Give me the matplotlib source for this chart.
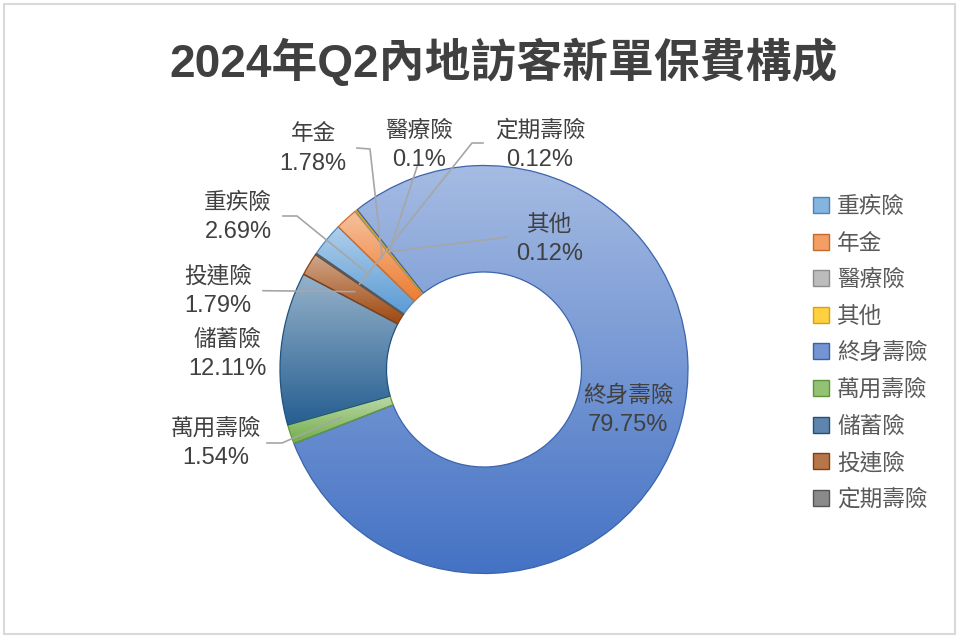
import numpy as np
import matplotlib
matplotlib.use("Agg")
import matplotlib.pyplot as plt
from matplotlib.colors import LinearSegmentedColormap, to_rgb
from matplotlib.patches import Patch, Rectangle

# ---------------- data ----------------
categories = ['重疾險', '年金', '醫療險', '其他', '終身壽險', '萬用壽險', '儲蓄險', '投連險', '定期壽險']
shares = [2.69, 1.78, 0.1, 0.12, 79.75, 1.54, 12.11, 1.79, 0.12]
pct_labels = ['2.69%', '1.78%', '0.1%', '0.12%', '79.75%', '1.54%', '12.11%', '1.79%', '0.12%']
title = '2024年Q2內地訪客新單保費構成'

# ---------------- style ----------------
base_colors = ['#5B9BD5', '#ED7D31', '#A5A5A5', '#FFC000', '#4472C4',
               '#70AD47', '#255E91', '#9E480E', '#636363']
plt.rcParams['font.family'] = ['Liberation Sans', 'Noto Sans CJK TC']

W, H = 959, 637
CX, CY, R = 484, 369.5, 204.0

def mix(c, t):
    r = np.array(to_rgb(c))
    return tuple(r + (1 - r) * t)

def dark(c, f=0.85):
    return tuple(np.array(to_rgb(c)) * f)

def px(x, y):
    return ((x - CX) / R, (CY - y) / R)

fig = plt.figure(figsize=(W / 100, H / 100), dpi=100)
fig.patch.set_facecolor('white')
ax = fig.add_axes([(CX - R) / W, (H - CY - R) / H, 2 * R / W, 2 * R / H])
ax.set_xlim(-1, 1)
ax.set_ylim(-1, 1)
ax.axis('off')

startangle = 145.3
wedges, _ = ax.pie(shares, startangle=startangle, counterclock=False, radius=1,
                   wedgeprops=dict(width=0.522, linewidth=0.9))

for w, c in zip(wedges, base_colors):
    w.set_facecolor('none')
    w.set_edgecolor(dark(c, 0.88))
    w.set_zorder(3)
    ext = w.get_path().get_extents()
    cmap = LinearSegmentedColormap.from_list('g', [to_rgb(c), mix(c, 0.52)])
    grad = np.linspace(0, 1, 256).reshape(-1, 1)
    im = ax.imshow(grad, cmap=cmap, extent=[ext.x0, ext.x1, ext.y0, ext.y1],
                   origin='lower', aspect='auto', interpolation='bicubic', zorder=2)
    im.set_clip_path(w)

ax.set_xlim(-1, 1)
ax.set_ylim(-1, 1)

# ---------------- data labels ----------------
label_px = {
    '重疾險': (238, 217), '年金': (313, 149), '醫療險': (419, 145), '其他': (550, 239),
    '終身壽險': (628, 410), '萬用壽險': (216, 443), '儲蓄險': (227, 354),
    '投連險': (218, 291), '定期壽險': (540, 145),
}
leader_px = {
    '重疾險': [(283, 216), (297, 216)],
    '年金': [(357, 148), (370, 149)],
    '醫療險': [(417, 167)],
    '其他': [(508, 237)],
    '投連險': [(263, 290.7)],
    '萬用壽險': [(267, 443), (282, 443)],
    '定期壽險': [(483, 143), (472, 143)],
}
total = sum(shares)
cum = np.cumsum([0] + shares[:-1])
tip_r = 0.74
for i, cat in enumerate(categories):
    bx, by = label_px[cat]
    ax.text(*px(bx, by - 15), cat, ha='center', va='center',
            fontsize=16.3, color='#404040', zorder=5)
    ax.text(*px(bx, by + 15), pct_labels[i], ha='center', va='center',
            fontsize=17, color='#404040', zorder=5)
    if cat in leader_px:
        mid = (cum[i] + shares[i] / 2) / total * 360
        ang = np.deg2rad(startangle - mid)
        tip = (tip_r * np.cos(ang), tip_r * np.sin(ang))
        pts = [px(*p) for p in leader_px[cat]] + [tip]
        xs, ys = zip(*pts)
        ax.plot(xs, ys, color='#a6a6a6', lw=1.2, clip_on=False, zorder=4)

# ---------------- title ----------------
fig.text(504 / W, 1 - 77.5 / H, title, ha='center', va='baseline', fontsize=33,
         fontweight='bold', color='#404040')

# ---------------- legend ----------------
handles = [Patch(facecolor=mix(c, 0.25), edgecolor=dark(c, 0.85), linewidth=1.0)
           for c in base_colors]
leg = ax.legend(handles, categories, loc='upper left',
                bbox_to_anchor=(812.7 / W, 1 - 195 / H), bbox_transform=fig.transFigure,
                frameon=False, fontsize=16.3, handlelength=0.72, handleheight=0.72,
                handletextpad=0.35, labelspacing=0.6, borderpad=0, borderaxespad=0)
for t in leg.get_texts():
    t.set_color('#595959')

# ---------------- frame ----------------
fig.patches.append(Rectangle((3.5 / W, 3.5 / H), (955 - 3.5) / W, (633.5 - 3.5) / H,
                             transform=fig.transFigure, fill=False,
                             edgecolor='#d9d9d9', linewidth=1.5))

fig.savefig('out.png', dpi=100)
